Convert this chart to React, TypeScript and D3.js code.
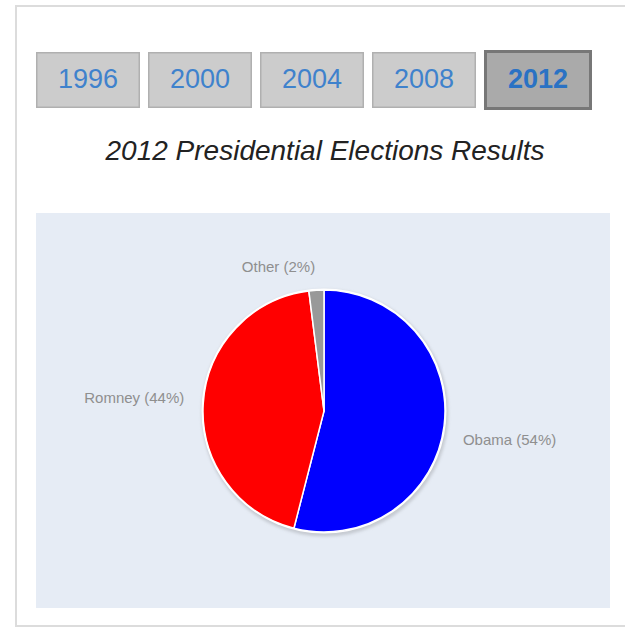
import React from 'react';
import * as d3 from 'd3';

const years = ['1996', '2000', '2004', '2008', '2012'];
const selectedYear = '2012';
const candidates = ['Obama', 'Romney', 'Other'];
const shares = [54, 44, 2];
const sliceColors = ['#0000ff', '#ff0000', '#999999'];

const W = 625;
const H = 630;
const FONT = 'Arial, "Liberation Sans", Helvetica, sans-serif';

export default function App() {
  const band = d3
    .scaleBand<string>()
    .domain(years)
    .range([36, 588])
    .paddingInner(8 / 112)
    .paddingOuter(0);

  const cx = 324;
  const cy = 411;
  const r = 121;
  const labelR = 140;

  const data = candidates.map((name, i) => ({ name, value: shares[i], color: sliceColors[i] }));
  const pie = d3
    .pie<{ name: string; value: number; color: string }>()
    .sort(null)
    .value((d) => d.value)
    .startAngle(0)
    .endAngle(2 * Math.PI);
  const arcs = pie(data);
  const arcGen = d3
    .arc<d3.PieArcDatum<{ name: string; value: number; color: string }>>()
    .innerRadius(0)
    .outerRadius(r);
  const total = d3.sum(shares);
  const pct = d3.format('.0%');

  return (
    <svg
      width={W}
      height={H}
      style={{ position: 'absolute', left: 0, top: 0, display: 'block' }}
      fontFamily={FONT}
    >
      <defs>
        <filter id="pieShadow" x="-20%" y="-20%" width="140%" height="140%">
          <feGaussianBlur stdDeviation="1.6" />
        </filter>
      </defs>
      <rect x={0} y={0} width={W} height={H} fill="#ffffff" />
      {/* outer frame */}
      <rect x={16} y={6} width={W + 20} height={620} fill="#ffffff" stroke="#dcdcdc" strokeWidth={2} />

      {/* year buttons */}
      {years.map((y) => {
        const x = band(y) as number;
        const bw = band.bandwidth();
        const sel = y === selectedYear;
        return (
          <g key={y}>
            {sel ? (
              <rect x={x + 1.5} y={51.5} width={bw + 4 - 3} height={57} fill="#aaaaaa" stroke="#777777" strokeWidth={3} />
            ) : (
              <rect x={x + 0.75} y={52.75} width={bw - 1.5} height={54.5} fill="#cccccc" stroke="#b0b0b0" strokeWidth={1.5} />
            )}
            <text
              x={x + (sel ? (bw + 4) / 2 : bw / 2)}
              y={88}
              textAnchor="middle"
              fontSize={27}
              fontWeight={sel ? 'bold' : 'normal'}
              fill={sel ? '#2a72c4' : '#3f82cc'}
            >
              {y}
            </text>
          </g>
        );
      })}

      {/* title */}
      <text x={325} y={160} textAnchor="middle" fontSize={28} fontStyle="italic" fill="#222222">
        {`${selectedYear} Presidential Elections Results`}
      </text>

      {/* chart area */}
      <rect x={36} y={213} width={574} height={395} fill="#e6ecf5" />

      {/* shadow */}
      <circle cx={cx + 1} cy={cy + 2} r={r + 2.5} fill="#b8bcc2" opacity={0.7} filter="url(#pieShadow)" />
      <circle cx={cx} cy={cy} r={r + 1.5} fill="#ffffff" />

      <g transform={`translate(${cx},${cy})`}>
        {arcs.map((a) => (
          <path key={a.data.name} d={arcGen(a) as string} fill={a.data.color} stroke="#ffffff" strokeWidth={1.5} strokeLinejoin="round" />
        ))}
      </g>

      {/* labels */}
      {arcs.map((a) => {
        const mid = (a.startAngle + a.endAngle) / 2;
        const px = cx + Math.sin(mid) * labelR;
        const py = cy - Math.cos(mid) * labelR;
        const anchor = Math.sin(mid) >= 0 ? 'start' : 'end';
        const baseline = Math.cos(mid) > 0 ? py + 1 : py + 16;
        return (
          <text key={a.data.name} x={px} y={baseline} textAnchor={anchor} fontSize={15} fill="#8f8f8f">
            {`${a.data.name} (${pct(a.data.value / total)})`}
          </text>
        );
      })}
    </svg>
  );
}
